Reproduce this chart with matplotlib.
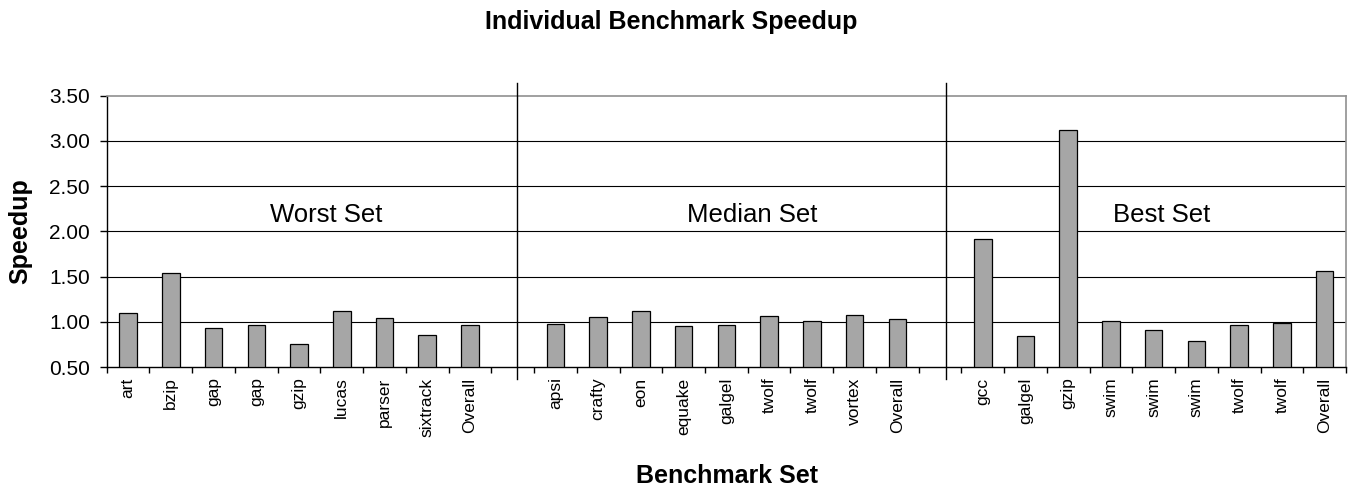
import numpy as np
import matplotlib
matplotlib.use("Agg")
import matplotlib.pyplot as plt
from matplotlib.ticker import FixedLocator, FormatStrFormatter

plt.rcParams['font.family'] = ['Liberation Sans', 'DejaVu Sans']

# Benchmark names and speedups per set
worst_names = ["art", "bzip", "gap", "gap", "gzip", "lucas", "parser", "sixtrack", "Overall"]
worst_vals = [1.10, 1.54, 0.93, 0.96, 0.75, 1.12, 1.04, 0.85, 0.96]

median_names = ["apsi", "crafty", "eon", "equake", "galgel", "twolf", "twolf", "vortex", "Overall"]
median_vals = [0.98, 1.05, 1.12, 0.95, 0.96, 1.06, 1.01, 1.07, 1.03]

best_names = ["gcc", "galgel", "gzip", "swim", "swim", "swim", "twolf", "twolf", "Overall"]
best_vals = [1.92, 0.84, 3.12, 1.01, 0.91, 0.79, 0.96, 0.99, 1.56]

set_titles = ["Worst Set", "Median Set", "Best Set"]
y_ticks = [0.5, 1.0, 1.5, 2.0, 2.5, 3.0, 3.5]

groups = [(worst_names, worst_vals), (median_names, median_vals), (best_names, best_vals)]

# Lay the sets out side by side with one empty slot between them
positions, values, labels = [], [], []
slot = 0
for gi, (names, vals) in enumerate(groups):
    for n, v in zip(names, vals):
        positions.append(slot)
        values.append(v)
        labels.append(n)
        slot += 1
    if gi < len(groups) - 1:
        slot += 1
n_slots = slot

fig = plt.figure(figsize=(13.53, 4.87), dpi=100)
ax = fig.add_axes([0.0789, 0.2464, 0.9159, 0.5571])

base = y_ticks[0]
ax.bar(positions, np.array(values) - base, bottom=base, width=0.41,
       color="#a6a6a6", edgecolor="black", linewidth=0.9, zorder=3)

ax.set_xlim(-0.5, n_slots - 0.5)
ax.set_ylim(y_ticks[0], y_ticks[-1])

# Horizontal gridlines
for yv in y_ticks[1:-1]:
    ax.axhline(yv, color="black", linewidth=0.8, zorder=1)

# Axis frame
for side in ("left", "bottom"):
    ax.spines[side].set_color("black")
    ax.spines[side].set_linewidth(1.0)
for side in ("top", "right"):
    ax.spines[side].set_color("#909090")
    ax.spines[side].set_linewidth(1.2)

ax.yaxis.set_major_locator(FixedLocator(y_ticks))
ax.yaxis.set_major_formatter(FormatStrFormatter("%.2f"))
ax.tick_params(axis="y", direction="out", length=5, width=1.0, pad=7, labelsize=15)

# Category labels at bar centres, tick marks at slot boundaries
ax.set_xticks(positions)
ax.set_xticklabels(labels, rotation=90, fontsize=12.5)
ax.tick_params(axis="x", which="major", length=0, pad=7.5)
ax.xaxis.set_minor_locator(FixedLocator(np.arange(-0.5, n_slots, 1.0)))
ax.tick_params(axis="x", which="minor", direction="out", length=4.6, width=1.0)

# Set dividers extending slightly beyond the plot area
for xd in (9.1, 19.15):
    ax.plot([xd, xd], [0.367, 3.645], color="black", linewidth=1.0,
            clip_on=False, zorder=4)

# Set captions
for txt, xc in zip(set_titles, (4.625, 14.595, 24.19)):
    ax.text(xc, 2.107, txt, ha="center", va="baseline", fontsize=18.5, zorder=5)

fig.text(0.496, 0.954, "Individual Benchmark Speedup", ha="center", va="center",
         fontsize=18, fontweight="bold")
fig.text(0.537, 0.008, "Benchmark Set", ha="center", va="baseline",
         fontsize=18, fontweight="bold")
fig.text(0.0148, 0.5257, "Speedup", ha="center", va="center", rotation=90,
         fontsize=18, fontweight="bold")

fig.savefig("out.png", dpi=100)
